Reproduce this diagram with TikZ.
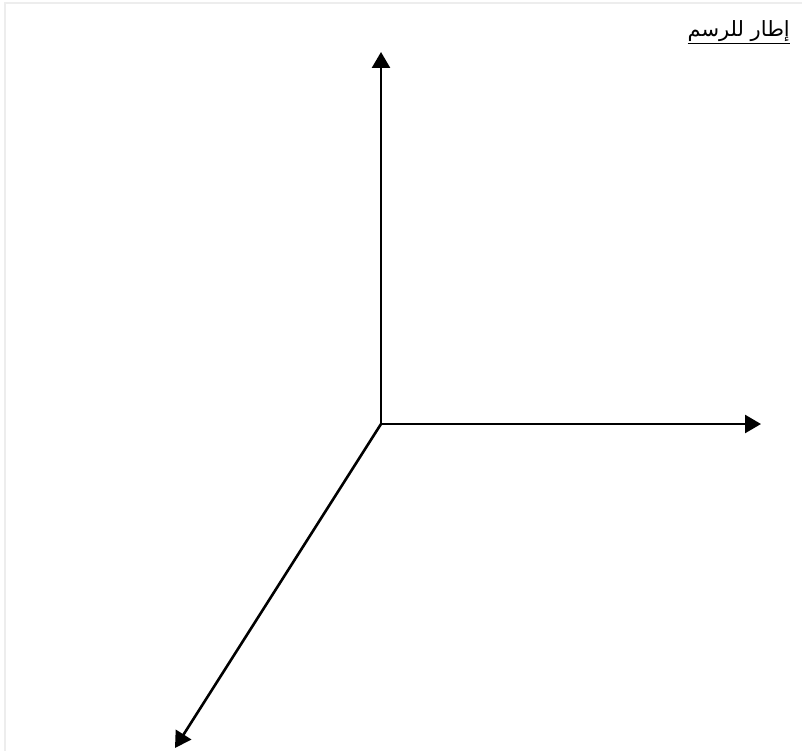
\documentclass[tikz,border=0pt]{standalone}
\usepackage{fontspec}
\newfontfamily\arabicfont[Script=Arabic]{DejaVu Sans}
\TeXXeTstate=1
\usetikzlibrary{arrows.meta}
\tikzset{
    axisarrow/.style={
        line width=2.6pt,
        black,
        -{Triangle[length=16pt, width=18pt]}
    },
    % إطار خفيف حول الرسم
    framestyle/.style={
        line width=1.6pt,
        black!7
    }
}
\begin{document}
\begin{tikzpicture}[x=1pt,y=-1pt]
	\useasboundingbox (0,0) rectangle (802,751);
	\draw[framestyle] (5,751) -- (5,3) -- (802,3);
	
	\path
	(381,424) coordinate (o)
	(381,52) coordinate (ytip)
	(761,424) coordinate (xtip)
	(175,748) coordinate (ztip);
	
	% المحاور
	\draw[axisarrow] (o) -- (ytip);
	\draw[axisarrow] (o) -- (xtip);
	\draw[axisarrow] (o) -- (ztip);
	
	% العنوان
	\node[anchor=base east,inner sep=0pt,font=\fontsize{21}{25}\arabicfont] (title) at (790,37) {\underline{\beginR إطار للرسم\endR}};
\end{tikzpicture}
\end{document}
